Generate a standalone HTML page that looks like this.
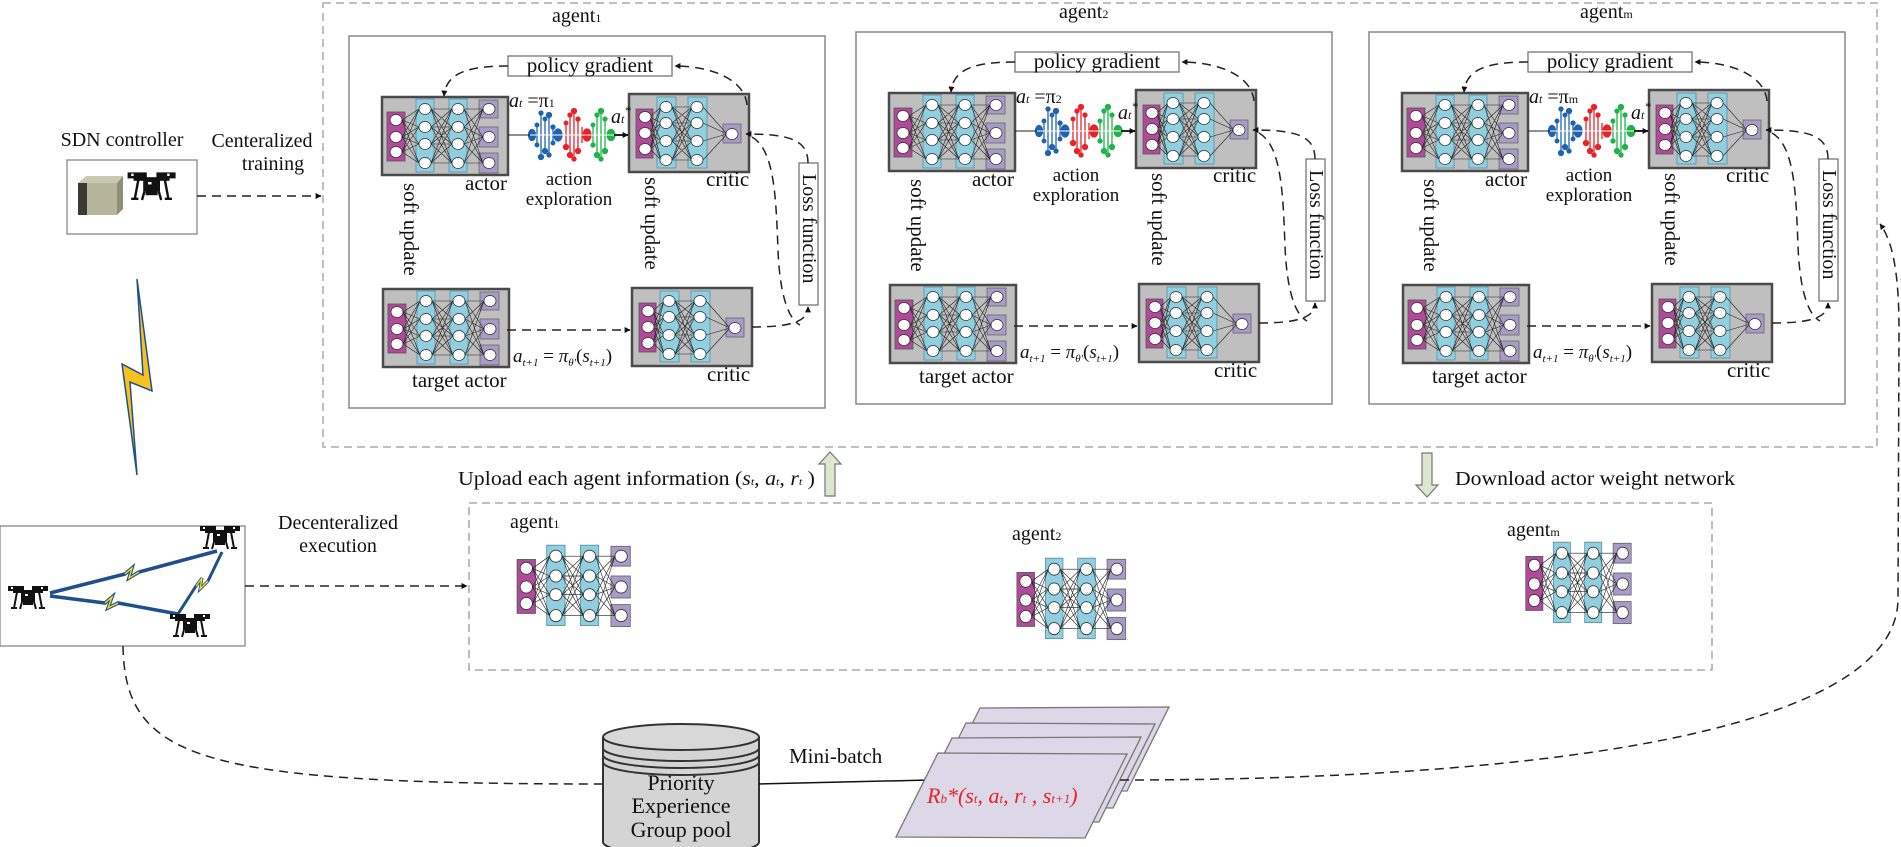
<!DOCTYPE html>
<html><head><meta charset="utf-8"><style>
html,body{margin:0;padding:0;background:#fff;}
svg{display:block;font-family:"Liberation Serif",serif;}
</style></head><body>
<svg width="1901" height="847" viewBox="0 0 1901 847" xmlns="http://www.w3.org/2000/svg">
<defs>
<marker id="ahs" viewBox="0 0 10 10" refX="9" refY="5" markerWidth="6" markerHeight="6" orient="auto" markerUnits="userSpaceOnUse"><path d="M0 0L10 5L0 10z" fill="#111"/></marker>
<g id="anet">
 <rect x="5" y="15" width="18" height="49" fill="#b24a9b" stroke="#555" stroke-width="0.8"/>
 <rect x="34" y="2" width="18" height="73" fill="#8fcfe0" stroke="#5a8f9f" stroke-width="0.8"/>
 <rect x="67" y="2" width="18" height="73" fill="#8fcfe0" stroke="#5a8f9f" stroke-width="0.8"/>
 <rect x="97" y="3" width="19" height="18" fill="#a99bc8" stroke="#666" stroke-width="0.8"/>
 <rect x="97" y="30" width="19" height="20" fill="#a99bc8" stroke="#666" stroke-width="0.8"/>
 <rect x="97" y="56" width="19" height="20" fill="#a99bc8" stroke="#666" stroke-width="0.8"/>
 <path fill="none" stroke="#222" stroke-width="0.6" d="M20 23L37 12M20 23L37 30M20 23L37 47M20 23L37 66M20 40L37 12M20 40L37 30M20 40L37 47M20 40L37 66M20 55L37 12M20 55L37 30M20 55L37 47M20 55L37 66M49 12L70 12M49 12L70 30M49 12L70 47M49 12L70 66M49 30L70 12M49 30L70 30M49 30L70 47M49 30L70 66M49 47L70 12M49 47L70 30M49 47L70 47M49 47L70 66M49 66L70 12M49 66L70 30M49 66L70 47M49 66L70 66M82 12L101 12M82 12L101 40M82 12L101 66M82 30L101 12M82 30L101 40M82 30L101 66M82 47L101 12M82 47L101 40M82 47L101 66M82 66L101 12M82 66L101 40M82 66L101 66"/>
 <g fill="#fff" stroke="#333" stroke-width="0.8">
  <ellipse cx="14" cy="23" rx="6" ry="5.5"/><ellipse cx="14" cy="40" rx="6" ry="5.5"/><ellipse cx="14" cy="55" rx="6" ry="5.5"/>
  <ellipse cx="43" cy="12" rx="6" ry="5.5"/><ellipse cx="43" cy="30" rx="6" ry="5.5"/><ellipse cx="43" cy="47" rx="6" ry="5.5"/><ellipse cx="43" cy="66" rx="6" ry="5.5"/>
  <ellipse cx="76" cy="12" rx="6" ry="5.5"/><ellipse cx="76" cy="30" rx="6" ry="5.5"/><ellipse cx="76" cy="47" rx="6" ry="5.5"/><ellipse cx="76" cy="66" rx="6" ry="5.5"/>
  <ellipse cx="107" cy="12" rx="6" ry="5.5"/><ellipse cx="107" cy="40" rx="6" ry="5.5"/><ellipse cx="107" cy="66" rx="6" ry="5.5"/>
 </g>
</g>
<g id="actor">
 <rect x="0" y="0" width="126" height="78" fill="#bfbfbf" stroke="#4a4a4a" stroke-width="2.5"/>
 <use href="#anet"/>
</g>
<g id="critic">
 <rect x="0" y="0" width="120" height="78" fill="#bfbfbf" stroke="#4a4a4a" stroke-width="2.5"/>
 <rect x="7" y="15" width="17" height="49" fill="#b24a9b" stroke="#555" stroke-width="0.8"/>
 <rect x="28" y="3" width="19" height="71" fill="#8fcfe0" stroke="#5a8f9f" stroke-width="0.8"/>
 <rect x="59" y="3" width="19" height="71" fill="#8fcfe0" stroke="#5a8f9f" stroke-width="0.8"/>
 <rect x="94" y="30" width="18" height="19" fill="#a99bc8" stroke="#666" stroke-width="0.8"/>
 <path fill="none" stroke="#222" stroke-width="0.6" d="M21 23L32 13M21 23L32 29M21 23L32 47M21 23L32 66M21 39L32 13M21 39L32 29M21 39L32 47M21 39L32 66M21 55L32 13M21 55L32 29M21 55L32 47M21 55L32 66M43 13L63 13M43 13L63 29M43 13L63 47M43 13L63 66M43 29L63 13M43 29L63 29M43 29L63 47M43 29L63 66M43 47L63 13M43 47L63 29M43 47L63 47M43 47L63 66M43 66L63 13M43 66L63 29M43 66L63 47M43 66L63 66M74 13L98 40M74 29L98 40M74 47L98 40M74 66L98 40"/>
 <g fill="#fff" stroke="#333" stroke-width="0.8">
  <ellipse cx="16" cy="23" rx="6" ry="5.5"/><ellipse cx="16" cy="39" rx="6" ry="5.5"/><ellipse cx="16" cy="55" rx="6" ry="5.5"/>
  <ellipse cx="37" cy="13" rx="6" ry="5.5"/><ellipse cx="37" cy="29" rx="6" ry="5.5"/><ellipse cx="37" cy="47" rx="6" ry="5.5"/><ellipse cx="37" cy="66" rx="6" ry="5.5"/>
  <ellipse cx="68" cy="13" rx="6" ry="5.5"/><ellipse cx="68" cy="29" rx="6" ry="5.5"/><ellipse cx="68" cy="47" rx="6" ry="5.5"/><ellipse cx="68" cy="66" rx="6" ry="5.5"/>
  <ellipse cx="103" cy="40" rx="6" ry="5.5"/>
 </g>
</g>
<g id="explore" stroke-width="1.3">
 <g stroke="#1f63b0" fill="#1f63b0">
  <path d="M537 125V145M541 113V157M545 119V151M549 115V155M553 127V143"/>
  <circle cx="537" cy="125" r="1.8"/><circle cx="537" cy="145" r="1.8"/><circle cx="541" cy="113" r="2"/><circle cx="541" cy="157" r="2.5"/><circle cx="545" cy="119" r="1.8"/><circle cx="545" cy="151" r="2.5"/><circle cx="549" cy="115" r="2.5"/><circle cx="549" cy="155" r="2"/><circle cx="553" cy="127" r="2"/><circle cx="553" cy="143" r="1.8"/>
  <ellipse cx="532" cy="135" rx="3.5" ry="5.5"/><ellipse cx="558" cy="135" rx="4" ry="6"/>
 </g>
 <g stroke="#e8222a" fill="#e8222a">
  <path d="M566 123V147M570 115V155M574 111V159M578 119V151M582 127V143"/>
  <circle cx="566" cy="123" r="1.8"/><circle cx="566" cy="147" r="2.5"/><circle cx="570" cy="115" r="2"/><circle cx="570" cy="155" r="2.5"/><circle cx="574" cy="111" r="2.5"/><circle cx="574" cy="159" r="2"/><circle cx="578" cy="119" r="2"/><circle cx="578" cy="151" r="2.5"/>
  <ellipse cx="587" cy="135" rx="4" ry="6"/>
 </g>
 <g stroke="#1fb24a" fill="#1fb24a">
  <path d="M593 125V145M597 115V155M601 111V159M605 119V151"/>
  <circle cx="593" cy="125" r="1.8"/><circle cx="593" cy="145" r="2"/><circle cx="597" cy="115" r="2"/><circle cx="597" cy="155" r="2.5"/><circle cx="601" cy="111" r="2.5"/><circle cx="601" cy="159" r="2"/><circle cx="605" cy="119" r="2"/><circle cx="605" cy="151" r="2.5"/>
  <ellipse cx="611" cy="135" rx="4" ry="5.5"/>
 </g>
 <path d="M530 135H620" stroke="#fff" stroke-width="1"/>
</g>
<g id="agentShapes">
 <rect x="349" y="36" width="476" height="372" fill="#fff" stroke="#888" stroke-width="1.5"/>
 <rect x="508" y="56" width="164" height="20" fill="#fff" stroke="#777" stroke-width="1.3"/>
 <rect x="799" y="163" width="19" height="142" fill="#fff" stroke="#777" stroke-width="1.3"/>
 <use href="#actor" x="382" y="97"/>
 <use href="#critic" x="629" y="94"/>
 <use href="#actor" x="383" y="289"/>
 <use href="#critic" x="632" y="288"/>
 <use href="#explore"/>
 <g fill="none" stroke="#222" stroke-width="1.5">
  <path d="M508 135H530" stroke-width="1"/>
  <path d="M614 135H628" stroke-width="2" marker-end="url(#ahs)"/>
  <g stroke-dasharray="9,6">
   <path d="M508 66C470 66 446 72 444 96" marker-end="url(#ahs)"/>
   <path d="M747 105C745 80 712 66 675 66" marker-end="url(#ahs)"/>
   <path d="M808 163C808 140 790 134 746 134" marker-end="url(#ahs)"/>
   <path d="M752 137C775 150 776 200 778 250C780 300 790 320 800 325"/>
   <path d="M752 327C790 327 808 322 808 307" marker-end="url(#ahs)"/>
   <path d="M507 330H630" marker-end="url(#ahs)"/>
  </g>
 </g>
</g>
<g id="drone" fill="#111">
 <rect x="0" y="0" width="16" height="5"/><rect x="24" y="0" width="16" height="5"/>
 <rect x="5" y="4" width="30" height="3"/>
 <rect x="13" y="5" width="14" height="11"/>
 <rect x="15" y="15" width="10" height="4"/>
 <path d="M9 6L6 22M31 6L34 22M3 22H9M31 22H37M14 16L12 23M26 16L28 23" stroke="#111" stroke-width="2" fill="none"/>
 <rect x="17" y="8" width="3" height="2" fill="#fff"/><rect x="3" y="1" width="2" height="2" fill="#fff"/><rect x="33" y="1" width="2" height="2" fill="#fff"/>
</g>
</defs>

<rect x="323" y="3" width="1554" height="444" fill="none" stroke="#aaa" stroke-width="1.5" stroke-dasharray="8,5"/>

<use href="#agentShapes"/>
<use href="#agentShapes" x="507" y="-4"/>
<use href="#agentShapes" x="1020" y="-4"/>

<g font-size="21" fill="#111">
 <g>
  <text x="552" y="22" font-size="20">agent<tspan font-size="12">1</tspan></text>
  <text x="590" y="72" text-anchor="middle">policy gradient</text>
  <text x="486" y="190" text-anchor="middle">actor</text>
  <text x="569" y="185" text-anchor="middle" font-size="19">action</text>
  <text x="569" y="205" text-anchor="middle" font-size="19">exploration</text>
  <text x="706" y="186">critic</text>
  <text x="707" y="381">critic</text>
  <text x="412" y="387">target actor</text>
  <text transform="translate(404,183) rotate(90)">soft update</text>
  <text transform="translate(645,177) rotate(90)">soft update</text>
  <text transform="translate(803,174) rotate(90)" font-size="20">Loss function</text>
  <text x="509" y="107" font-size="20"><tspan font-style="italic">a</tspan><tspan font-size="12" font-style="italic">t</tspan> =π<tspan font-size="12">1</tspan></text>
  <text x="611" y="123" font-size="20" font-style="italic">a<tspan font-size="12">t</tspan><tspan font-size="13" dy="-8">*</tspan></text>
  <text x="513" y="362" font-size="19" font-style="italic">a<tspan font-size="11" dy="4">t+1</tspan><tspan dy="-4" font-style="normal"> = </tspan>π<tspan font-size="11" dy="4">θ'</tspan><tspan dy="-4" font-style="normal">(</tspan>s<tspan font-size="11" dy="4">t+1</tspan><tspan dy="-4" font-style="normal">)</tspan></text>
 </g>
 <g transform="translate(507,-4)">
  <text x="552" y="22" font-size="20">agent<tspan font-size="12">2</tspan></text>
  <text x="590" y="72" text-anchor="middle">policy gradient</text>
  <text x="486" y="190" text-anchor="middle">actor</text>
  <text x="569" y="185" text-anchor="middle" font-size="19">action</text>
  <text x="569" y="205" text-anchor="middle" font-size="19">exploration</text>
  <text x="706" y="186">critic</text>
  <text x="707" y="381">critic</text>
  <text x="412" y="387">target actor</text>
  <text transform="translate(404,183) rotate(90)">soft update</text>
  <text transform="translate(645,177) rotate(90)">soft update</text>
  <text transform="translate(803,174) rotate(90)" font-size="20">Loss function</text>
  <text x="509" y="107" font-size="20"><tspan font-style="italic">a</tspan><tspan font-size="12" font-style="italic">t</tspan> =π<tspan font-size="12">2</tspan></text>
  <text x="611" y="123" font-size="20" font-style="italic">a<tspan font-size="12">t</tspan><tspan font-size="13" dy="-8">*</tspan></text>
  <text x="513" y="362" font-size="19" font-style="italic">a<tspan font-size="11" dy="4">t+1</tspan><tspan dy="-4" font-style="normal"> = </tspan>π<tspan font-size="11" dy="4">θ'</tspan><tspan dy="-4" font-style="normal">(</tspan>s<tspan font-size="11" dy="4">t+1</tspan><tspan dy="-4" font-style="normal">)</tspan></text>
 </g>
 <g transform="translate(1020,-4)">
  <text x="560" y="22" font-size="20">agent<tspan font-size="12">m</tspan></text>
  <text x="590" y="72" text-anchor="middle">policy gradient</text>
  <text x="486" y="190" text-anchor="middle">actor</text>
  <text x="569" y="185" text-anchor="middle" font-size="19">action</text>
  <text x="569" y="205" text-anchor="middle" font-size="19">exploration</text>
  <text x="706" y="186">critic</text>
  <text x="707" y="381">critic</text>
  <text x="412" y="387">target actor</text>
  <text transform="translate(404,183) rotate(90)">soft update</text>
  <text transform="translate(645,177) rotate(90)">soft update</text>
  <text transform="translate(803,174) rotate(90)" font-size="20">Loss function</text>
  <text x="509" y="107" font-size="20"><tspan font-style="italic">a</tspan><tspan font-size="12" font-style="italic">t</tspan> =π<tspan font-size="12">m</tspan></text>
  <text x="611" y="123" font-size="20" font-style="italic">a<tspan font-size="12">t</tspan><tspan font-size="13" dy="-8">*</tspan></text>
  <text x="513" y="362" font-size="19" font-style="italic">a<tspan font-size="11" dy="4">t+1</tspan><tspan dy="-4" font-style="normal"> = </tspan>π<tspan font-size="11" dy="4">θ'</tspan><tspan dy="-4" font-style="normal">(</tspan>s<tspan font-size="11" dy="4">t+1</tspan><tspan dy="-4" font-style="normal">)</tspan></text>
 </g>
</g>

<text x="122" y="146" font-size="20" text-anchor="middle" fill="#111">SDN controller</text>
<rect x="67" y="160" width="130" height="74" fill="#fff" stroke="#888" stroke-width="1.3"/>
<polygon points="78,183 86,176 123,176 117,183" fill="#c9c8b2"/>
<rect x="78" y="183" width="9" height="32" fill="#3a3a30"/>
<rect x="87" y="183" width="30" height="32" fill="#b6b59c"/>
<polygon points="117,183 123,176 123,209 117,215" fill="#8f8e78"/>
<use href="#drone" x="128" y="177" transform="translate(-26,-40) scale(1.2)"/>
<text x="262" y="147" font-size="20" text-anchor="middle" fill="#111">Centeralized</text>
<text x="273" y="170" font-size="20" text-anchor="middle" fill="#111">training</text>
<path d="M197 196H321" fill="none" stroke="#222" stroke-width="1.5" stroke-dasharray="9,6" marker-end="url(#ahs)"/>

<polygon points="137,279 143,375 122,364 137,475 130,382 152,391" fill="#f8c21c" stroke="#1f4f8f" stroke-width="1.5"/>

<rect x="0" y="526" width="245" height="120" fill="#fff" stroke="#888" stroke-width="1.3"/>
<g fill="none" stroke-linejoin="miter">
 <polyline points="50,593 125,574 132,568 129,578 139,572 217,551" stroke="#1f4f8f" stroke-width="3.5"/>
 <polyline points="125,574 132,568 129,578 139,572" stroke="#f4e21a" stroke-width="1.3"/>
 <polyline points="50,596 105,603 112,597 108,608 118,603 178,614" stroke="#1f4f8f" stroke-width="3.5"/>
 <polyline points="105,603 112,597 108,608 118,603" stroke="#f4e21a" stroke-width="1.3"/>
 <polyline points="178,614 196,586 202,578 200,589 208,581 222,552" stroke="#1f4f8f" stroke-width="3"/>
 <polyline points="196,586 202,578 200,589 208,581" stroke="#f4e21a" stroke-width="1.3"/>
</g>
<use href="#drone" x="8" y="586"/>
<use href="#drone" x="200" y="526"/>
<use href="#drone" x="170" y="614"/>
<text x="338" y="529" font-size="20" text-anchor="middle" fill="#111">Decenteralized</text>
<text x="338" y="552" font-size="20" text-anchor="middle" fill="#111">execution</text>
<path d="M245 586H467" fill="none" stroke="#222" stroke-width="1.5" stroke-dasharray="9,6" marker-end="url(#ahs)"/>

<text x="458" y="485" font-size="20" fill="#111" textLength="357" lengthAdjust="spacingAndGlyphs">Upload each agent information (<tspan font-style="italic">s</tspan><tspan font-size="11" font-style="italic">t</tspan>, <tspan font-style="italic">a</tspan><tspan font-size="11" font-style="italic">t</tspan>, <tspan font-style="italic">r</tspan><tspan font-size="11" font-style="italic">t</tspan> )</text>
<polygon points="830,452 841,464 835,464 835,496 825,496 825,464 819,464" fill="#dde6cf" stroke="#777" stroke-width="1.2"/>
<polygon points="1427,497 1438,485 1432,485 1432,453 1422,453 1422,485 1416,485" fill="#dde6cf" stroke="#777" stroke-width="1.2"/>
<text x="1455" y="485" font-size="20" fill="#111" textLength="280" lengthAdjust="spacingAndGlyphs">Download actor weight network</text>

<rect x="469" y="503" width="1243" height="167" fill="none" stroke="#999" stroke-width="1.3" stroke-dasharray="8,5"/>
<text x="510" y="528" font-size="20" fill="#111">agent<tspan font-size="12">1</tspan></text>
<text x="1012" y="540" font-size="20" fill="#111">agent<tspan font-size="12">2</tspan></text>
<text x="1507" y="536" font-size="20" fill="#111">agent<tspan font-size="12">m</tspan></text>
<use href="#anet" transform="translate(512,543) scale(1.02,1.1)"/>
<use href="#anet" transform="translate(1012,556) scale(0.98,1.1)"/>
<use href="#anet" transform="translate(1521,540) scale(0.95,1.1)"/>

<path d="M123 646C125 760 200 784 603 784" fill="none" stroke="#222" stroke-width="1.5" stroke-dasharray="9,6"/>
<path d="M603 737V842A78 13 0 0 0 759 842V737" fill="#d4d4d4" stroke="#333" stroke-width="2"/>
<ellipse cx="681" cy="737" rx="78" ry="13" fill="#d8d8d8" stroke="#333" stroke-width="2"/>
<path d="M603 748A78 13 0 0 0 759 748M603 755A78 13 0 0 0 759 755M603 762A78 13 0 0 0 759 762" fill="none" stroke="#333" stroke-width="2"/>
<text x="681" y="790" font-size="22" text-anchor="middle" fill="#111">Priority</text>
<text x="681" y="813" font-size="22" text-anchor="middle" fill="#111">Experience</text>
<text x="681" y="837" font-size="22" text-anchor="middle" fill="#111">Group pool</text>
<text x="789" y="763" font-size="21" fill="#111">Mini-batch</text>
<path d="M759 784L930 780" fill="none" stroke="#111" stroke-width="1.5" marker-end="url(#ahs)"/>
<g fill="#ddd8e8" stroke="#777" stroke-width="1.3">
 <polygon points="980,708 1169,707 1127,791 938,792"/>
 <polygon points="966,723 1155,724 1113,808 924,807"/>
 <polygon points="952,738 1141,737 1099,822 910,822"/>
 <polygon points="938,753 1127,754 1085,838 896,837"/>
</g>
<text x="927" y="803" font-size="22" fill="#e8222a" font-style="italic">R<tspan font-size="13">b</tspan>*(s<tspan font-size="13">t</tspan>, a<tspan font-size="13">t</tspan>, r<tspan font-size="13">t</tspan> , s<tspan font-size="13">t+1</tspan>)</text>
<path d="M1120 780C1500 780 1895 740 1898 600L1899 330C1899 270 1892 240 1880 224" fill="none" stroke="#222" stroke-width="1.5" stroke-dasharray="9,6" marker-end="url(#ahs)"/>
</svg>
</body></html>
